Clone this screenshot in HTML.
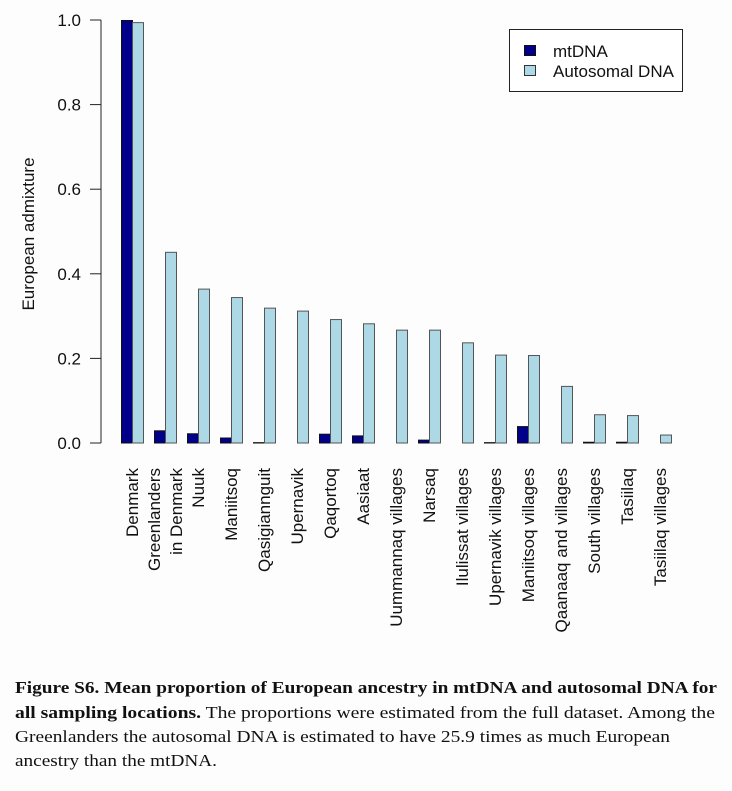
<!DOCTYPE html>
<html><head><meta charset="utf-8"><style>
html,body{margin:0;padding:0;background:#fdfdfd;}
svg{display:block;font-family:"Liberation Sans",sans-serif;}
</style></head><body>
<svg id="chart" width="732" height="791" viewBox="0 0 732 791" xmlns="http://www.w3.org/2000/svg">
<rect x="0" y="0" width="732" height="791" fill="#fdfdfd"/>
<g id="plot"></g>
<g>
<rect x="509.5" y="29.5" width="173" height="62" fill="#fff" stroke="#222" stroke-width="1"/>
<rect x="524.5" y="45.5" width="11" height="10" fill="#00008b" stroke="#111"/>
<text x="553" y="57" font-size="17" fill="#111">mtDNA</text>
<rect x="524.5" y="65.5" width="11" height="10" fill="#add8e6" stroke="#333"/>
<text x="553" y="77" font-size="17" fill="#111">Autosomal DNA</text>
</g>
<text transform="translate(34,234) rotate(-90)" text-anchor="middle" font-size="17" fill="#111">European admixture</text>
<g font-family="'Liberation Serif',serif" font-size="17" fill="#111">
<text x="15" y="693" textLength="702" lengthAdjust="spacingAndGlyphs" font-weight="bold">Figure S6.  Mean proportion of European ancestry in mtDNA and autosomal DNA for</text>
<text x="15" y="718" textLength="700" lengthAdjust="spacingAndGlyphs"><tspan font-weight="bold">all sampling locations.</tspan> The proportions were estimated from the full dataset. Among the</text>
<text x="15" y="742" textLength="655" lengthAdjust="spacingAndGlyphs">Greenlanders the autosomal DNA is estimated to have 25.9 times as much European</text>
<text x="15" y="766" textLength="202" lengthAdjust="spacingAndGlyphs">ancestry than the mtDNA.</text>
</g>
</svg>
<script>
const categories = [["Denmark"],["Greenlanders","in Denmark"],["Nuuk"],["Maniitsoq"],["Qasigiannguit"],["Upernavik"],["Qaqortoq"],["Aasiaat"],["Uummannaq villages"],["Narsaq"],["Ilulissat villages"],["Upernavik villages"],["Maniitsoq villages"],["Qaanaaq and villages"],["South villages"],["Tasiilaq"],["Tasiilaq villages"]];
const mtDNA = [1.0,0.03,0.023,0.013,0.002,0.0,0.022,0.018,0.0,0.008,0.0,0.002,0.04,0.0,0.003,0.003,0.0];
const autosomal = [0.995,0.452,0.365,0.345,0.32,0.313,0.293,0.283,0.268,0.268,0.238,0.209,0.208,0.135,0.068,0.066,0.02];
const yTicks = [0,0.2,0.4,0.6,0.8,1.0];
const yTickLabels = ["0.0","0.2","0.4","0.6","0.8","1.0"];

const NS="http://www.w3.org/2000/svg";
const plot=document.getElementById('plot');
const y0=443, y1=20;
function yScale(v){return y0-(y0-y1)*v;}
const x0=121, step=33, bw=11;
function xGroup(i){return x0+i*step;}
function mk(tag,attrs){const e=document.createElementNS(NS,tag);for(const k in attrs)e.setAttribute(k,attrs[k]);plot.appendChild(e);return e;}

const ax=mk('line',{x1:101,x2:101,y1:yScale(yTicks[0]),y2:yScale(yTicks[yTicks.length-1]),stroke:'#222','stroke-width':1});


yTicks.forEach((t,i)=>{
  const tk=mk('line',{x1:90,x2:101,y1:yScale(t),y2:yScale(t),stroke:'#222','stroke-width':1});
  
  
  const tl=mk('text',{x:81,y:yScale(t)+6,'text-anchor':'end','font-size':17,fill:'#111'});
  tl.textContent=yTickLabels[i];
  
  
});
categories.forEach((c,i)=>{
  const gx=xGroup(i);
  const hm=Math.max(0,yScale(0)-yScale(mtDNA[i]));
  const b1=mk('rect',{x:gx+0.5,y:yScale(mtDNA[i])+0.5,width:bw,height:Math.max(0,hm-0.5),fill:'#00008b',stroke:'#111','stroke-width':1});
  
  
  const ha=yScale(0)-yScale(autosomal[i]);
  const b2=mk('rect',{x:gx+bw+0.5,y:yScale(autosomal[i])+0.5,width:bw,height:Math.max(0,ha-0.5),fill:'#add8e6',stroke:'#555','stroke-width':1});
  
  
  const cx=gx+bw;
  const n=c.length;
  c.forEach((line,j)=>{
    const lx=cx+(j-(n-1)/2)*22+6;
    const t=mk('text',{transform:`translate(${lx},468) rotate(-90)`,'text-anchor':'end','font-size':17,fill:'#111'});
    t.textContent=line;
    
    
  });
});
</script>
</body></html>
